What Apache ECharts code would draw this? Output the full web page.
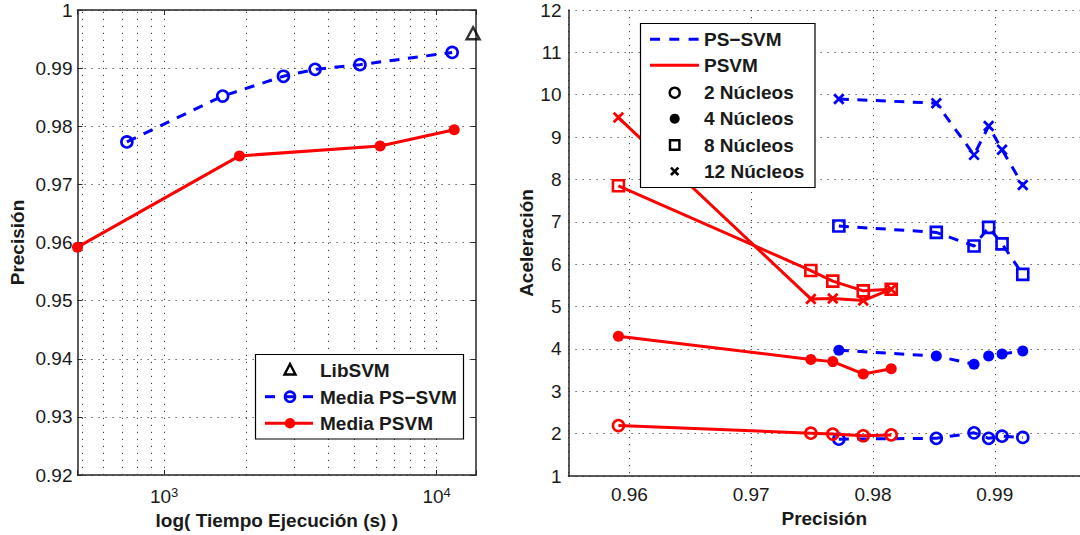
<!DOCTYPE html>
<html>
<head>
<meta charset="utf-8">
<title>Precisión y aceleración: PS-SVM vs PSVM</title>
<script src="https://cdn.jsdelivr.net/npm/echarts@6/dist/echarts.min.js"></script>
<style>
  html, body { margin: 0; padding: 0; background: #fff; }
  #chart { width: 1080px; height: 535px; }
</style>
</head>
<body>
<div id="chart"></div>
<script>
// ---- Left panel: mean precision against execution time (s) ----
const libsvmTime = [13600];
const libsvmPrec = [0.996];
const psTime = [730, 1640, 2740, 3580, 5230, 11400];
const psPrec = [0.9773, 0.9852, 0.9886, 0.9898, 0.9906, 0.9927];
const pTime = [481, 1890, 6200, 11600];
const pPrec = [0.9592, 0.9749, 0.9766, 0.9794];
// vertical grid positions of the log time axis (seconds)
const timeGrid = [500, 600, 700, 800, 900, 1000, 2000, 3000, 4000, 5000, 6000, 7000, 8000, 9000, 10000];

// ---- Right panel: speed-up against precision, per core count ----
const psX = [0.9772, 0.9852, 0.9883, 0.9895, 0.9906, 0.9923];
const ps2 = [1.87, 1.89, 2.02, 1.89, 1.94, 1.91];
const ps4 = [3.97, 3.83, 3.64, 3.83, 3.88, 3.95];
const ps8 = [6.90, 6.75, 6.43, 6.87, 6.48, 5.76];
const ps12 = [9.90, 9.80, 8.58, 9.26, 8.70, 7.87];
const pX = [0.9591, 0.9749, 0.9767, 0.9792, 0.9815];
const p2 = [2.19, 2.01, 1.99, 1.95, 1.97];
const p4 = [4.30, 3.75, 3.70, 3.41, 3.53];
const p8 = [7.85, 5.85, 5.60, 5.37, 5.41];
const p12 = [9.46, 5.18, 5.19, 5.14, 5.41];

const FONT = '"Liberation Sans", Arial, Helvetica, sans-serif';
const BLUE = '#0000ff';
const RED = '#ff0000';
const INK = '#1a1a1a';
const FS = 19;

const zip = (xs, ys) => xs.map((x, i) => [x, ys[i]]);

const dotted = { show: true, lineStyle: { type: [1.2, 5.8], color: '#3c3c3c', width: 1 } };
const frame = { show: true, onZero: false, lineStyle: { color: '#262626', width: 1.5 } };
const tickIn = { show: true, inside: true, length: 5, lineStyle: { color: '#262626', width: 1 } };
const tickFont = { color: INK, fontFamily: FONT, fontSize: FS };
const nameFont = { color: INK, fontFamily: FONT, fontSize: FS, fontWeight: 'bold' };

const xCross = 'path://M0,0L10,10M0,10L10,0';
const DASH = [10, 8.5];

function markerStyle(kind, color) {
  if (kind === 'open') return { symbol: 'circle', symbolSize: 11, itemStyle: { color: 'none', borderColor: color, borderWidth: 2.6 } };
  if (kind === 'dot') return { symbol: 'circle', symbolSize: 11, itemStyle: { color: color, borderColor: color, borderWidth: 0 } };
  if (kind === 'square') return { symbol: 'rect', symbolSize: 11, itemStyle: { color: 'none', borderColor: color, borderWidth: 2.6 } };
  return { symbol: xCross, symbolSize: 9.5, itemStyle: { color: 'none', borderColor: color, borderWidth: 2.8 } };
}

function curve(name, xs, ys, color, dashed, kind, axisIdx) {
  const m = markerStyle(kind, color);
  return {
    name: name,
    type: 'line',
    xAxisIndex: axisIdx,
    yAxisIndex: axisIdx,
    data: zip(xs, ys),
    symbol: m.symbol,
    symbolSize: m.symbolSize,
    showSymbol: true,
    itemStyle: m.itemStyle,
    lineStyle: { color: color, width: 3, type: dashed ? DASH : 'solid' },
    emphasis: { disabled: true },
    z: dashed ? 3 : 4
  };
}

function powerLabel(v) {
  const e = Math.log10(v);
  const r = Math.round(e);
  if (Math.abs(e - r) > 1e-6) return '';
  return '{b|10}{s|' + r + '}';
}

// ---- legend boxes ----
const T = (text, x, y) => ({
  type: 'text', z: 101,
  style: { text: text, x: x, y: y, fill: INK, fontFamily: FONT, fontSize: FS, fontWeight: 'bold', verticalAlign: 'middle', align: 'left' }
});
const L = (x1, y1, x2, y2, color, w, dash) => ({
  type: 'line', z: 101,
  shape: { x1: x1, y1: y1, x2: x2, y2: y2 },
  style: { stroke: color, lineWidth: w, lineDash: dash || null }
});

const leftLegend = [
  { type: 'rect', z: 100, shape: { x: 255.5, y: 354.5, width: 208, height: 84.5 }, style: { fill: '#fff', stroke: '#000', lineWidth: 1.2 } },
  { type: 'polygon', z: 101, shape: { points: [[290, 364], [284.5, 374.5], [295.5, 374.5]] }, style: { fill: 'none', stroke: '#000', lineWidth: 2.4 } },
  T('LibSVM', 320, 370.5),
  L(265, 396.7, 275, 396.7, BLUE, 3),
  L(285, 396.7, 295, 396.7, BLUE, 3),
  L(303, 396.7, 313, 396.7, BLUE, 3),
  { type: 'circle', z: 102, shape: { cx: 290, cy: 396.7, r: 5 }, style: { fill: 'none', stroke: BLUE, lineWidth: 2.6 } },
  T('Media PS\u2212SVM', 320, 397),
  L(265, 423.3, 313, 423.3, RED, 3),
  { type: 'circle', z: 102, shape: { cx: 290, cy: 423.3, r: 5.2 }, style: { fill: RED, stroke: null } },
  T('Media PSVM', 320, 423.6)
];

const rightLegend = [
  { type: 'rect', z: 100, shape: { x: 640.5, y: 23.5, width: 174.5, height: 164 }, style: { fill: '#fff', stroke: '#000', lineWidth: 1.2 } },
  L(650, 39.3, 699, 39.3, BLUE, 3, [10, 9.3]),
  T('PS\u2212SVM', 704, 39.8),
  L(650, 65.3, 699, 65.3, RED, 3),
  T('PSVM', 704, 65.8),
  { type: 'circle', z: 101, shape: { cx: 674.7, cy: 92.7, r: 5 }, style: { fill: 'none', stroke: '#000', lineWidth: 2.4 } },
  T('2 N\u00facleos', 704, 92.9),
  { type: 'circle', z: 101, shape: { cx: 674.7, cy: 118.7, r: 5 }, style: { fill: '#000', stroke: null } },
  T('4 N\u00facleos', 704, 118.9),
  { type: 'rect', z: 101, shape: { x: 670, y: 140.3, width: 9.4, height: 9.4 }, style: { fill: 'none', stroke: '#000', lineWidth: 2.4 } },
  T('8 N\u00facleos', 704, 145.2),
  L(671, 167.6, 678.4, 175, '#000', 2.6),
  L(671, 175, 678.4, 167.6, '#000', 2.6),
  T('12 N\u00facleos', 704, 171.5)
];

const option = {
  animation: false,
  backgroundColor: '#fff',
  textStyle: { fontFamily: FONT },
  grid: [
    { left: 77.5, right: 604, top: 10, bottom: 60 },
    { left: 568.5, right: 0, top: 10, bottom: 59 }
  ],
  xAxis: [
    {
      type: 'log', logBase: 10, gridIndex: 0,
      min: pTime[0], max: 13940,
      axisLine: frame, axisTick: tickIn, splitLine: { show: false },
      axisLabel: {
        margin: 11, formatter: powerLabel,
        rich: {
          b: { fontFamily: FONT, fontSize: FS, color: INK },
          s: { fontFamily: FONT, fontSize: 13, color: INK, verticalAlign: 'top', padding: [0, 0, 8, 0] }
        }
      },
      name: 'log( Tiempo Ejecuci\u00f3n (s) )', nameLocation: 'middle', nameGap: 35, nameTextStyle: nameFont
    },
    {
      type: 'log', logBase: 10, gridIndex: 0, position: 'top',
      min: pTime[0], max: 13940,
      axisLine: frame, axisTick: tickIn, axisLabel: { show: false }, splitLine: { show: false }
    },
    {
      type: 'value', gridIndex: 1,
      min: 0.955, max: 0.997, splitNumber: 5,
      axisLine: frame, axisTick: { show: false }, splitLine: dotted,
      axisLabel: Object.assign({ margin: 9, showMinLabel: false, showMaxLabel: false }, tickFont),
      name: 'Precisi\u00f3n', nameLocation: 'middle', nameGap: 33, nameTextStyle: nameFont
    }
  ],
  yAxis: [
    {
      type: 'value', gridIndex: 0,
      min: 0.92, max: 1, interval: 0.01,
      axisLine: frame, axisTick: tickIn, splitLine: dotted,
      axisLabel: Object.assign({ margin: 5 }, tickFont),
      name: 'Precisi\u00f3n', nameLocation: 'middle', nameGap: 51, nameTextStyle: nameFont
    },
    {
      type: 'value', gridIndex: 0, position: 'right',
      min: 0.92, max: 1, interval: 0.01,
      axisLine: frame, axisTick: tickIn, splitLine: { show: false }, axisLabel: { show: false }
    },
    {
      type: 'value', gridIndex: 1,
      min: 1, max: 12, interval: 1,
      axisLine: frame, axisTick: { show: false }, splitLine: dotted,
      axisLabel: Object.assign({ margin: 7 }, tickFont),
      name: 'Aceleraci\u00f3n', nameLocation: 'middle', nameGap: 33, nameTextStyle: nameFont
    }
  ],
  series: [
    {
      name: 'LibSVM', type: 'scatter', xAxisIndex: 0, yAxisIndex: 0,
      data: zip(libsvmTime, libsvmPrec),
      symbol: 'triangle', symbolSize: [13, 12],
      itemStyle: { color: 'none', borderColor: '#000', borderWidth: 2.4 },
      emphasis: { disabled: true }, z: 5
    },
    curve('Media PS\u2212SVM', psTime, psPrec, BLUE, true, 'open', 0),
    Object.assign(curve('Media PSVM', pTime, pPrec, RED, false, 'dot', 0), {
      markLine: {
        z: 1, silent: true, symbol: 'none', animation: false,
        label: { show: false },
        lineStyle: { type: [1.2, 5.8], color: '#3c3c3c', width: 1 },
        emphasis: { disabled: true },
        data: timeGrid.map(t => ({ xAxis: t }))
      }
    }),

    curve('PS\u2212SVM 2', psX, ps2, BLUE, true, 'open', 2),
    curve('PS\u2212SVM 4', psX, ps4, BLUE, true, 'dot', 2),
    curve('PS\u2212SVM 8', psX, ps8, BLUE, true, 'square', 2),
    curve('PS\u2212SVM 12', psX, ps12, BLUE, true, 'cross', 2),
    curve('PSVM 2', pX, p2, RED, false, 'open', 2),
    curve('PSVM 4', pX, p4, RED, false, 'dot', 2),
    curve('PSVM 8', pX, p8, RED, false, 'square', 2),
    curve('PSVM 12', pX, p12, RED, false, 'cross', 2)
  ],
  graphic: leftLegend.concat(rightLegend)
};

const chart = echarts.init(document.getElementById('chart'), null, { renderer: 'svg' });
chart.setOption(option);
</script>
</body>
</html>
